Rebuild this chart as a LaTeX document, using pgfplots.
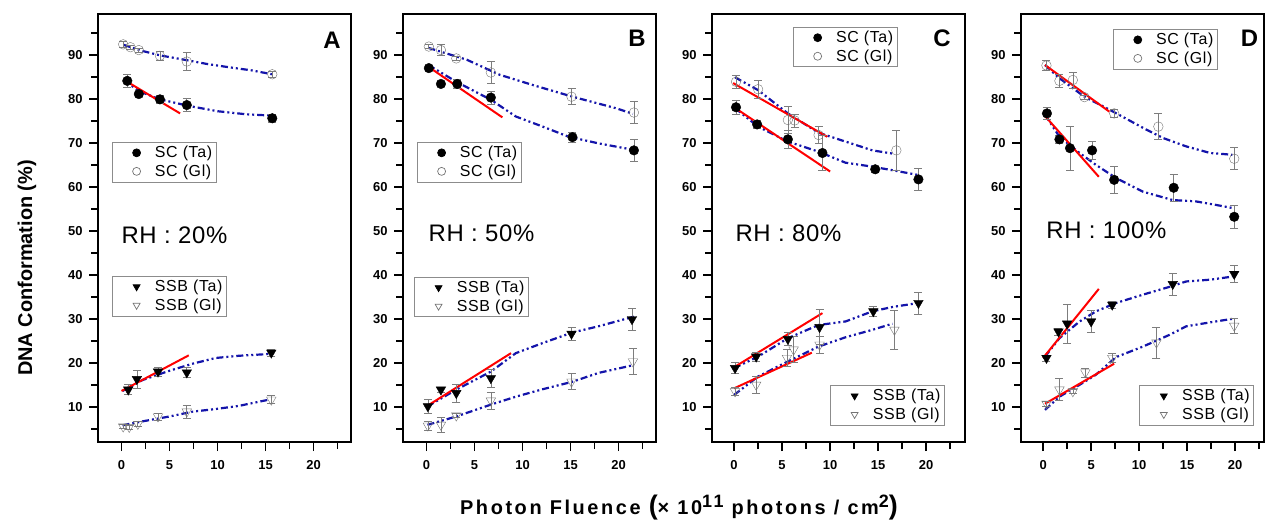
\documentclass[border=0pt]{standalone}
\usepackage{fontspec}
\setmainfont{Liberation Sans}
\usepackage{pgfplots}
\pgfplotsset{compat=1.18}
\definecolor{fitblue}{RGB}{20,20,170}
\definecolor{errgray}{RGB}{125,125,125}
\tikzset{
  rh/.style={anchor=west, font=\fontsize{24}{24}\selectfont\addfontfeature{LetterSpace=3}},
  lett/.style={font=\fontsize{24}{24}\selectfont\bfseries},
}
\pgfplotsset{
  panel/.style={scale only axis, height=428bp, ymin=2, ymax=99.3, anchor=north west,
    axis line style={line width=1.8bp},
    xtick={0,5,10,15,20}, minor xtick={2.5,7.5,12.5,17.5,22.5},
    ytick={10,20,...,90}, minor ytick={5,15,...,95},
    tick align=outside, xtick pos=bottom, ytick pos=left,
    major tick length=9bp, minor tick length=7bp,
    tick style={black, line width=1.5bp},
    tick label style={font=\fontsize{13}{13}\selectfont\bfseries},
    /pgf/number format/assume math mode=true,
    xticklabel style={yshift=-6bp},
    yticklabel style={xshift=-3bp},
    legend cell align=left,
    legend style={draw=black!45, line width=0.7pt, font=\fontsize{16}{18}\selectfont\addfontfeature{LetterSpace=4},
      inner xsep=2bp, inner ysep=2bp, row sep=1.5bp, anchor=north west},
    clip=false},
  over/.style={panel, hide axis},
  fit/.style={fitblue, line width=2.2bp, dash pattern=on 7bp off 3bp on 2bp off 3bp on 2bp off 3bp, forget plot},
  redfit/.style={red, line width=2bp, forget plot},
  legimg/.style={legend image code/.code={\path (0bp,0bp) (38bp,0bp); \draw[##1,mark size=4bp] plot coordinates {(22bp,0bp)};}},
  errs/.style={error bars/.cd, y dir=both, y explicit,
    error bar style={errgray, line width=0.7bp},
    error mark options={rotate=90, errgray, mark size=4bp, line width=0.7bp}},
  sct/.style={only marks, mark=*, mark size=4.8bp, black, legimg, errs},
  scg/.style={only marks, mark=o, mark size=4.8bp, black!55, mark options={fill=white}, legimg, errs},
  ssbt/.style={only marks, mark=triangle*, mark size=5.5bp, black, mark options={rotate=180}, legimg, errs},
  ssbg/.style={only marks, mark=triangle, mark size=5.5bp, black!55, mark options={rotate=180, fill=white}, legimg, errs},
}
\begin{document}
\begin{tikzpicture}
\useasboundingbox (0,0) rectangle (1266bp,-523bp);
% ---------------- Panel A ----------------
\begin{axis}[panel, at={(98bp,-14bp)}, width=253bp, xmin=-2.45, xmax=23.9,
  legend style={at={(0.055,0.701)}}]
\addplot[fit] coordinates {(0.2,84.2) (2,81.6) (4,79.9) (7,78.4) (10,77.2) (13,76.5) (15.7,76.2)};
\addplot[fit] coordinates {(0.2,92.3) (2,91.0) (4,89.9) (6.8,88.8) (9,87.9) (11.5,87.1) (13.5,86.5) (15.7,85.6)};
\addplot[redfit] coordinates {(0.2,84.4) (6.1,76.7)};
\addplot[sct] coordinates {(0.6,84.1) +- (0,1.4) (1.8,81.1) +- (0,0.5) (4.0,79.9) +- (0,1.0) (6.8,78.6) +- (0,1.5) (15.7,75.6) +- (0,1.0)};
\addlegendentry{SC (Ta)}
\addplot[scg] coordinates {(0.17,92.4) +- (0,0.7) (0.93,91.75) +- (0,0.5) (1.8,91.1) +- (0,0.5) (4.0,89.8) +- (0,1.0) (6.8,88.5) +- (0,2.1) (15.7,85.6) +- (0,0.7)};
\addlegendentry{SC (Gl)}
\node[rh] at (rel axis cs:0.079,0.484) {RH : 20\%};
\node[lett] at (rel axis cs:0.925,0.939) {A};
\end{axis}
\begin{axis}[over, at={(98bp,-14bp)}, width=253bp, xmin=-2.45, xmax=23.9,
  legend style={at={(0.055,0.388)}}]
\addplot[fit] coordinates {(0.1,13.6) (2.2,16.1) (5,18.2) (7.4,19.8) (9.8,21.1) (12.2,21.6) (15.3,22.0)};
\addplot[fit] coordinates {(0.1,5.8) (2.2,6.7) (5,7.8) (7.4,8.9) (9.8,9.5) (12.2,10.2) (15.3,11.6)};
\addplot[redfit] coordinates {(0,13.6) (7.0,21.7)};
\addplot[ssbt] coordinates {(0.7,13.9) +- (0,1.1) (1.6,16.3) +- (0,2.0) (3.8,18.0) +- (0,1.0) (6.8,17.8) +- (0,1.2) (15.6,22.3) +- (0,0.8)};
\addlegendentry{SSB (Ta)}
\addplot[ssbg] coordinates {(0.17,5.5) +- (0,0.5) (0.8,5.4) +- (0,0.5) (1.7,6.1) +- (0,0.5) (3.8,7.8) +- (0,0.8) (6.8,8.9) +- (0,1.5) (15.6,11.6) +- (0,0.9)};
\addlegendentry{SSB (Gl)}
\end{axis}
% ---------------- Panel B ----------------
\begin{axis}[panel, at={(403bp,-14bp)}, width=253bp, xmin=-2.45, xmax=23.9,
  legend style={at={(0.055,0.701)}}]
\addplot[fit] coordinates {(0.2,87.7) (3.1,83.9) (6.7,79.8) (9.3,76.0) (12.1,73.7) (14.8,71.4) (17.9,69.9) (21.6,68.4)};
\addplot[fit] coordinates {(0.2,91.6) (4.2,88.9) (7.6,85.5) (11.0,83.2) (15.2,80.5) (19.7,77.9) (21.5,76.6)};
\addplot[redfit] coordinates {(0.2,87.3) (7.9,75.8)};
\addplot[sct] coordinates {(0.24,87.0) +- (0,0.5) (1.5,83.4) +- (0,0.5) (3.2,83.4) +- (0,1.0) (6.7,80.3) +- (0,1.5) (15.2,71.3) +- (0,1.2) (21.6,68.3) +- (0,2.5)};
\addlegendentry{SC (Ta)}
\addplot[scg] coordinates {(0.24,91.9) +- (0,0.5) (1.5,91.1) +- (0,1.2) (3.1,89.2) +- (0,0.5) (6.7,86.0) +- (0,2.5) (15.1,80.5) +- (0,1.8) (21.6,76.9) +- (0,2.5)};
\addlegendentry{SC (Gl)}
\node[rh] at (rel axis cs:0.087,0.488) {RH : 50\%};
\node[lett] at (rel axis cs:0.925,0.943) {B};
\end{axis}
\begin{axis}[over, at={(403bp,-14bp)}, width=253bp, xmin=-2.45, xmax=23.9,
  legend style={at={(0.043,0.386)}}]
\addplot[fit] coordinates {(0.1,10.1) (3.1,13.9) (6.7,18.0) (9.3,22.2) (12.1,24.5) (15.2,26.9) (17.9,28.3) (21.6,30.5)};
\addplot[fit] coordinates {(0.1,5.9) (3.1,7.8) (6.7,10.5) (9.3,12.3) (12.1,14.0) (15.2,15.7) (17.9,17.7) (21.6,19.5)};
\addplot[redfit] coordinates {(0,10.1) (8.8,22.2)};
\addplot[ssbt] coordinates {(0.14,10.1) +- (0,1.5) (1.5,13.9) +- (0,0.5) (3.1,13.1) +- (0,2.0) (6.7,16.5) +- (0,2.0) (15.1,26.6) +- (0,1.5) (21.4,29.9) +- (0,2.5)};
\addlegendentry{SSB (Ta)}
\addplot[ssbg] coordinates {(0.14,5.7) +- (0,1.0) (1.5,5.9) +- (0,1.8) (3.1,8.0) +- (0,0.5) (6.7,11.4) +- (0,2.0) (15.1,15.7) +- (0,1.8) (21.5,20.3) +- (0,3.0)};
\addlegendentry{SSB (Gl)}
\end{axis}
% ---------------- Panel C ----------------
\begin{axis}[panel, at={(712bp,-14bp)}, width=253bp, xmin=-2.3, xmax=24.05,
  legend style={at={(0.32,0.970)}}]
\addplot[fit] coordinates {(0.1,84.9) (2.5,82.0) (5.6,76.7) (8.8,72.3) (11.6,70.3) (14.4,68.3) (16.7,67.5)};
\addplot[fit] coordinates {(0.1,77.9) (2.5,73.7) (5.6,70.3) (8.8,68.0) (11.6,65.5) (14.4,64.6) (16.7,63.7) (19.2,62.7)};
\addplot[redfit] coordinates {(-0.1,83.6) (9.7,71.4)};
\addplot[redfit] coordinates {(0.0,78.1) (10.0,63.5)};
\addplot[sct] coordinates {(0.2,78.1) +- (0,1.5) (2.4,74.2) +- (0,1.0) (5.6,70.8) +- (0,2.0) (9.2,67.7) +- (0,4.0) (14.7,64.0) +- (0,0.7) (19.2,61.7) +- (0,2.5)};
\addlegendentry{SC (Ta)}
\addplot[scg] coordinates {(0.2,83.9) +- (0,1.5) (2.5,82.2) +- (0,2.0) (5.6,75.2) +- (0,3.0) (6.3,75.1) +- (0,1.5) (8.8,71.8) +- (0,2.0) (16.9,68.3) +- (0,4.5)};
\addlegendentry{SC (Gl)}
\node[rh] at (rel axis cs:0.079,0.488) {RH : 80\%};
\node[lett] at (rel axis cs:0.909,0.943) {C};
\end{axis}
\begin{axis}[over, at={(712bp,-14bp)}, width=253bp, xmin=-2.3, xmax=24.05,
  legend style={at={(0.466,0.133)}}]
\addplot[fit] coordinates {(0,18.8) (2.5,21.4) (5.6,25.6) (8.8,28.6) (11.6,29.4) (14.4,31.7) (16.5,32.7) (19.2,33.6)};
\addplot[fit] coordinates {(0,12.7) (2.5,16.9) (5.6,20.3) (8.8,23.7) (11.6,25.8) (14.4,27.5) (16.5,28.9)};
\addplot[redfit] coordinates {(0,19.0) (9.2,31.3)};
\addplot[redfit] coordinates {(0,14.2) (8.1,22.3)};
\addplot[ssbt] coordinates {(0.1,18.8) +- (0,1.2) (2.3,21.4) +- (0,1.0) (5.6,25.4) +- (0,1.5) (8.9,28.1) +- (0,4.0) (14.5,31.7) +- (0,1.2) (19.2,33.6) +- (0,2.5)};
\addlegendentry{SSB (Ta)}
\addplot[ssbg] coordinates {(0.1,13.5) +- (0,1.0) (2.3,15.0) +- (0,2.0) (5.5,21.1) +- (0,2.0) (6.2,23.0) +- (0,3.0) (8.9,24.1) +- (0,2.0) (16.7,27.5) +- (0,4.5)};
\addlegendentry{SSB (Gl)}
\end{axis}
% ---------------- Panel D ----------------
\begin{axis}[panel, at={(1021bp,-14bp)}, width=243bp, xmin=-2.3, xmax=23.0,
  legend style={at={(0.379,0.965)}}]
\addplot[fit] coordinates {(0.2,87.7) (1.7,84.7) (4.3,80.5) (7.3,77.1) (10.5,73.3) (12.5,71.1) (14.9,69.2) (17.4,67.7) (19.7,67.3)};
\addplot[fit] coordinates {(0.2,76.4) (1.7,71.4) (3.8,67.7) (5.5,65.0) (7.6,62.0) (10.4,58.9) (13.5,57.0) (15.9,56.7) (18.0,55.9) (19.7,55.2)};
\addplot[redfit] coordinates {(0.2,87.7) (6.9,77.1)};
\addplot[redfit] coordinates {(0.2,76.1) (5.8,62.3)};
\addplot[sct] coordinates {(0.4,76.7) +- (0,1.3) (1.7,70.8) +- (0,1.0) (2.8,68.8) +- (0,5.0) (5.1,68.3) +- (0,2.1) (7.4,61.6) +- (0,3.0) (13.6,59.8) +- (0,3.0) (19.9,53.2) +- (0,2.7)};
\addlegendentry{SC (Ta)}
\addplot[scg] coordinates {(0.35,87.6) +- (0,1.2) (1.7,84.1) +- (0,1.5) (3.1,84.3) +- (0,1.8) (4.3,80.4) +- (0,0.5) (7.4,76.7) +- (0,1.0) (12.0,73.7) +- (0,3.0) (19.9,66.4) +- (0,2.5)};
\addlegendentry{SC (Gl)}
\node[rh] at (rel axis cs:0.09,0.495) {RH : 100\%};
\node[lett] at (rel axis cs:0.94,0.943) {D};
\end{axis}
\begin{axis}[over, at={(1021bp,-14bp)}, width=243bp, xmin=-2.3, xmax=23.0,
  legend style={at={(0.486,0.133)}}]
\addplot[fit] coordinates {(0.2,21.4) (1.7,25.6) (3.8,29.4) (5.5,31.7) (7.6,33.6) (10.4,35.5) (13.2,37.3) (14.9,38.5) (17.4,38.9) (19.7,39.6)};
\addplot[fit] coordinates {(0.2,9.3) (1.7,12.3) (3.8,15.0) (5.5,17.3) (7.6,21.3) (10.4,23.7) (13.2,26.4) (14.9,28.3) (17.4,29.2) (19.7,30.0)};
\addplot[redfit] coordinates {(0,21.1) (5.8,36.8)};
\addplot[redfit] coordinates {(0.2,10.7) (7.4,19.8)};
\addplot[ssbt] coordinates {(0.35,21.1) +- (0,0.7) (1.6,27.1) +- (0,0.8) (2.5,28.9) +- (0,4.5) (5.0,29.4) +- (0,2.5) (7.2,33.2) +- (0,0.8) (13.5,37.9) +- (0,2.5) (19.9,40.2) +- (0,2.0)};
\addlegendentry{SSB (Ta)}
\addplot[ssbg] coordinates {(0.35,10.7) +- (0,0.5) (1.7,13.9) +- (0,2.5) (3.1,13.5) +- (0,0.5) (4.4,17.8) +- (0,1.0) (7.2,21.1) +- (0,1.0) (11.8,24.6) +- (0,3.5) (19.9,28.4) +- (0,1.8)};
\addlegendentry{SSB (Gl)}
\end{axis}
% ---------------- common labels ----------------
\node[rotate=90, font=\fontsize{20}{20}\selectfont\bfseries] at (27bp,-268bp) {DNA Conformation (\%)};
\node[font=\fontsize{20}{20}\selectfont\bfseries\addfontfeature{LetterSpace=13}] at (679bp,-508bp)
  {Photon Fluence {\fontsize{27}{27}\selectfont(}× 10\raisebox{7bp}{\fontsize{18}{18}\selectfont 11} photons / cm\raisebox{7bp}{\fontsize{18}{18}\selectfont 2}{\fontsize{27}{27}\selectfont)}};
\end{tikzpicture}
\end{document}
